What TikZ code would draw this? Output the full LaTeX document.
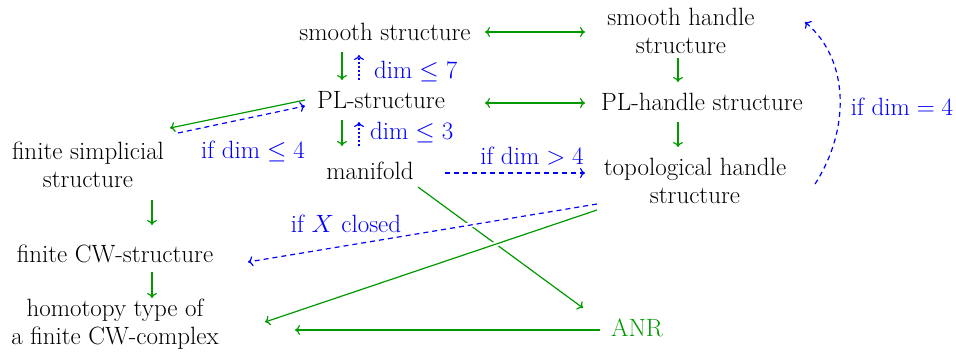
\RequirePackage{fix-cm}
\documentclass[tikz,border=0pt]{standalone}
\usepackage{fontspec}
\usetikzlibrary{arrows.meta}
\begin{document}
\begin{tikzpicture}[x=1pt,y=-1pt,
  font=\fontsize{25}{28}\selectfont,
  every node/.style={inner sep=0pt, align=center},
  gr/.style={draw=green!60!black, line width=1.2pt, -{To[length=5pt,width=10pt]}},
  grboth/.style={draw=green!60!black, line width=1.2pt, {To[length=5pt,width=10pt]}-{To[length=5pt,width=10pt]}},
  bl/.style={draw=blue, line width=1.2pt, dash pattern=on 5pt off 4pt, -{To[length=5pt,width=10pt]}},
  bldot/.style={draw=blue, line width=1.2pt, dash pattern=on 2pt off 2pt, -{To[length=5pt,width=10pt]}},
  lab/.style={text=blue},
  gap/.style={preaction={draw=white, line width=5pt, solid, -}}]
\useasboundingbox (0,0) rectangle (956,356);
\node (smooth) at (385,32) {smooth structure};
\node (sh) at (681,31) {smooth handle\\structure};
\node (pl) at (381,100) {PL-structure};
\node (plh) at (702,102) {PL-handle structure};
\node (fs) at (88,165) {finite simplicial\\structure};
\node (man) at (370,171) {manifold};
\node (top) at (695,181) {topological handle\\structure};
\node (cw) at (115,254) {finite CW-structure};
\node (hom) at (115,324) {homotopy type of\\a finite CW-complex};
\node[text=green!60!black] (anr) at (637,328) {ANR};

\coordinate (s1) at (342,52); \coordinate (p1) at (342,80);
\coordinate (s2) at (359,55); \coordinate (p2) at (359,80);
\coordinate (p3) at (342,120); \coordinate (m1) at (342,146);
\coordinate (p4) at (359,122); \coordinate (m2) at (359,146);
\draw[gr] (s1) -- (p1);
\draw[bldot] (p2) -- (s2);
\draw[gr] (p3) -- (m1);
\draw[bldot] (m2) -- (p4);
\node[lab, anchor=west] at (374,72) {$\dim\leq 7$};
\node[lab, anchor=west] at (370,133) {$\dim\leq 3$};

\draw[grboth] (485,32) -- (585,32);
\draw[grboth] (485,103) -- (585,103);
\draw[gr] (678,58) -- (678,82);
\draw[gr] (678,122) -- (678,147);

\coordinate (pa) at (305,100); \coordinate (fa) at (170,128);
\coordinate (fb) at (178,133); \coordinate (pb) at (305,106);
\draw[gr] (pa) -- (fa);
\draw[bl] (fb) -- (pb);
\node[lab] at (253,151) {if $\dim\leq 4$};

\draw[bl] (445,173) -- (585,173);
\node[lab] at (532,156) {if $\dim > 4$};

\draw[gr] (152,200) -- (152,225);
\draw[gr] (152,272) -- (152,298);

\draw[gr] (418,187) -- (583,308);
\draw[bl, gap] (597,204) -- (248,262);
\node[lab] at (346,224) {if $X$ closed};
\draw[gr, gap] (597,210) -- (265,322);
\draw[gr] (600,330) -- (295,330);

\draw[bl] (815,184) .. controls (850,130) and (850,60) .. (805,22);
\node[lab] at (902,107) {if $\dim = 4$};
\end{tikzpicture}
\end{document}
